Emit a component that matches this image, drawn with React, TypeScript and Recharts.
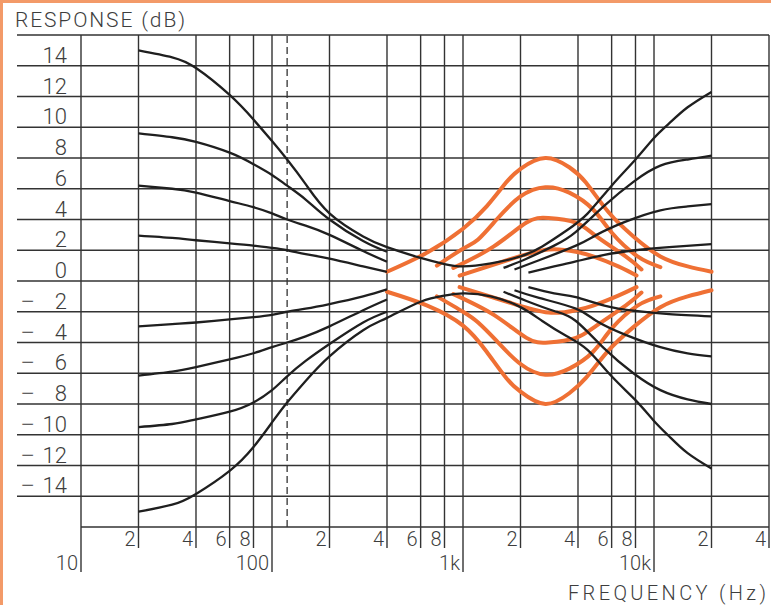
import { LineChart, Line, XAxis, YAxis, CartesianGrid, ReferenceLine } from 'recharts';

// axis ticks
const xTicks = [10, 20, 40, 60, 80, 100, 200, 400, 600, 800, 1000, 2000, 4000, 6000, 8000, 10000, 20000, 40000];
const xTickLabels = ['10', '2', '4', '6', '8', '100', '2', '4', '6', '8', '1k', '2', '4', '6', '8', '10k', '2', '4'];
const decadeTicks = [10, 100, 1000, 10000];
const yTicks = [-16, -14, -12, -10, -8, -6, -4, -2, 0, 2, 4, 6, 8, 10, 12, 14, 16];
const dashedFreq = 120;

// bass + treble at full boost / full cut (one continuous curve each)
const fullFreq = [20, 30, 40, 60, 80, 100, 120, 150, 200, 300, 400, 600, 800, 1000, 1400, 2000, 2600, 3500, 4500, 6000, 8000, 10000, 12000, 15000, 20000];
const maxBoost = [15.0, 14.55, 13.85, 12.1, 10.5, 9.1, 7.9, 6.3, 4.4, 2.9, 2.2, 1.5, 1.1, 0.95, 1.15, 1.6, 2.25, 3.3, 4.4, 6.2, 7.9, 9.3, 10.25, 11.3, 12.3];
const maxCut = [-15.0, -14.55, -13.85, -12.35, -10.8, -9.2, -7.9, -6.5, -4.9, -3.2, -2.4, -1.35, -0.95, -0.8, -1.0, -1.7, -2.6, -3.6, -4.5, -6.2, -7.75, -9.1, -10.1, -11.2, -12.2];

// bass steps
const bassFreq = [20, 30, 40, 60, 80, 100, 120, 150, 200, 300, 400];
const bassUp3 = [9.6, 9.35, 9.05, 8.35, 7.6, 6.9, 6.2, 5.3, 4.0, 2.6, 1.9];
const bassUp2 = [6.2, 6.0, 5.75, 5.2, 4.8, 4.4, 4.0, 3.6, 3.0, 1.95, 1.25];
const bassUp1 = [2.95, 2.8, 2.65, 2.45, 2.3, 2.15, 2.0, 1.75, 1.45, 0.95, 0.6];
const bassDown1 = [-2.95, -2.8, -2.7, -2.5, -2.35, -2.2, -2.0, -1.8, -1.5, -1.0, -0.55];
const bassDown2 = [-6.15, -5.9, -5.6, -5.1, -4.7, -4.3, -4.0, -3.6, -2.95, -1.9, -1.2];
const bassDown3 = [-9.5, -9.3, -9.0, -8.5, -7.9, -7.1, -6.2, -5.2, -4.1, -2.7, -2.0];

// treble steps
const trebleFreq3 = [1630, 2150, 3000, 3900, 5500, 7800, 10800, 15000, 20000];
const trebleUp3 = [0.85, 1.45, 2.3, 3.2, 4.9, 6.45, 7.5, 7.9, 8.15];
const trebleDown3 = [-0.7, -1.3, -1.95, -2.6, -4.4, -6.0, -7.1, -7.7, -8.0];
const trebleFreq2 = [1860, 2500, 3900, 5000, 7100, 10800, 15000, 20000];
const trebleUp2 = [0.75, 1.35, 2.3, 3.0, 3.86, 4.6, 4.85, 5.0];
const trebleDown2 = [-0.6, -1.1, -1.8, -2.6, -3.5, -4.3, -4.7, -4.9];
const trebleFreq1 = [2200, 3000, 3900, 5500, 8000, 12000, 20000];
const trebleUp1 = [0.55, 0.95, 1.27, 1.7, 2.0, 2.2, 2.4];
const trebleDown1 = [-0.4, -0.8, -1.05, -1.6, -1.95, -2.15, -2.3];

// midrange (presence) steps
const midFreq4 = [400, 650, 1000, 1330, 1680, 2000, 2700, 3600, 4400, 5800, 7800, 10800, 15000, 20000];
const midUp4 = [0.6, 1.85, 3.4, 4.85, 6.4, 7.3, 8.0, 7.4, 6.4, 4.45, 2.9, 1.6, 0.95, 0.6];
const midDown4 = [-0.7, -1.6, -2.9, -4.6, -6.3, -7.2, -8.0, -7.3, -6.3, -4.5, -3.0, -1.7, -1.0, -0.6];
const midFreq3 = [730, 1000, 1200, 1500, 2000, 2700, 3600, 4800, 6000, 8200, 10800];
const midUp3 = [1.0, 2.1, 2.7, 4.0, 5.5, 6.1, 5.75, 4.65, 3.15, 1.6, 0.9];
const midDown3 = [-1.0, -2.0, -2.7, -3.9, -5.4, -6.1, -5.7, -4.6, -3.1, -1.6, -1.0];
const midFreq2 = [890, 1450, 2150, 2800, 3900, 5000, 7100, 8600];
const midUp2 = [0.85, 2.25, 3.8, 4.1, 3.8, 2.9, 1.6, 0.75];
const midDown2 = [-0.85, -2.2, -3.7, -4.0, -3.7, -2.9, -1.6, -0.75];
const midFreq1 = [960, 1750, 2800, 3900, 4800, 6500, 8100];
const midUp1 = [0.35, 1.4, 2.05, 1.9, 1.6, 0.95, 0.35];
const midDown1 = [-0.4, -1.4, -2.05, -1.9, -1.6, -0.95, -0.4];

const BLACK = '#1f1f1f';
const ORANGE = '#ef7034';
const GRID = '#333333';
const TEXT = '#3d3d3d';
const FONT = "Roboto, 'Liberation Sans', sans-serif";

const toPoints = (freqs: number[], dbs: number[]) => freqs.map((f, i) => ({ f, db: dbs[i] }));

const orangeCurves = [
  toPoints(midFreq4, midUp4), toPoints(midFreq3, midUp3), toPoints(midFreq2, midUp2), toPoints(midFreq1, midUp1),
  toPoints(midFreq4, midDown4), toPoints(midFreq3, midDown3), toPoints(midFreq2, midDown2), toPoints(midFreq1, midDown1),
];

const blackCurves = [
  toPoints(fullFreq, maxBoost), toPoints(fullFreq, maxCut),
  toPoints(bassFreq, bassUp3), toPoints(bassFreq, bassUp2), toPoints(bassFreq, bassUp1),
  toPoints(bassFreq, bassDown1), toPoints(bassFreq, bassDown2), toPoints(bassFreq, bassDown3),
  toPoints(trebleFreq3, trebleUp3), toPoints(trebleFreq2, trebleUp2), toPoints(trebleFreq1, trebleUp1),
  toPoints(trebleFreq3, trebleDown3), toPoints(trebleFreq2, trebleDown2), toPoints(trebleFreq1, trebleDown1),
];

const XTick = ({ x, y, payload }: any) => {
  const v = payload.value;
  const major = decadeTicks.includes(v);
  const label = xTickLabels[xTicks.indexOf(v)];
  return (
    <g>
      <line x1={x} x2={x} y1={y} y2={y + (major ? 45 : 21)} stroke={GRID} strokeWidth={1.4} />
      <text x={x - 3} y={y + (major ? 43 : 19)} textAnchor="end" fontSize={20} fontFamily={FONT} fontWeight={300} fill={TEXT}>
        {label}
      </text>
    </g>
  );
};

const YTick = ({ y, payload }: any) => {
  const v = payload.value;
  return (
    <g>
      {v > -16 && <line x1={17} x2={81} y1={y} y2={y} stroke={GRID} strokeWidth={1.4} />}
      {Math.abs(v) < 16 && v < 0 && (
        <text x={20} y={y - 3} fontSize={22} fontFamily={FONT} fontWeight={300} fill={TEXT}
          textLength={15} lengthAdjust="spacingAndGlyphs">−</text>
      )}
      {Math.abs(v) < 16 && (
        <text x={67} y={y - 3} textAnchor="end" fontSize={22} fontFamily={FONT} fontWeight={300} fill={TEXT}>
          {Math.abs(v)}
        </text>
      )}
    </g>
  );
};

export default function App() {
  return (
    <div style={{ position: 'absolute', left: 0, top: 0, width: 771, height: 605, background: '#fff' }}>
      <LineChart width={771} height={605} margin={{ top: 35, right: 2, bottom: 0, left: 0 }}>
        <CartesianGrid stroke={GRID} strokeWidth={1.4} />
        <XAxis
          dataKey="f"
          type="number"
          scale="log"
          domain={[10, 40000]}
          ticks={xTicks}
          interval={0}
          allowDataOverflow
          axisLine={false}
          tickLine={false}
          tickSize={0}
          tickMargin={0}
          height={78}
          tick={<XTick />}
        />
        <YAxis
          type="number"
          domain={[-16, 16]}
          ticks={yTicks}
          interval={0}
          allowDataOverflow
          axisLine={false}
          tickLine={false}
          width={81}
          tick={<YTick />}
        />
        <ReferenceLine x={dashedFreq} stroke={GRID} strokeWidth={1.3} strokeDasharray="7 4" />
        {orangeCurves.map((d, i) => (
          <Line key={`o${i}`} data={d} dataKey="db" type="natural" stroke={ORANGE} strokeWidth={4}
            strokeLinecap="round" dot={false} activeDot={false} isAnimationActive={false} />
        ))}
        {blackCurves.map((d, i) => (
          <Line key={`b${i}`} data={d} dataKey="db" type="natural" stroke={BLACK} strokeWidth={2.3}
            dot={false} activeDot={false} isAnimationActive={false} />
        ))}
      </LineChart>
      <svg width={771} height={605} style={{ position: 'absolute', left: 0, top: 0, pointerEvents: 'none' }}>
        <rect x={0} y={0} width={771} height={3} fill="#f39a68" />
        <rect x={0} y={0} width={3} height={605} fill="#f39a68" />
        <text x={15} y={27} fontSize={21} fontFamily={FONT} fontWeight={300} fill={TEXT}
          textLength={170} lengthAdjust="spacing">RESPONSE (dB)</text>
        <text x={568} y={600} fontSize={20} fontFamily={FONT} fontWeight={300} fill={TEXT}
          textLength={198} lengthAdjust="spacing">FREQUENCY (Hz)</text>
      </svg>
    </div>
  );
}
